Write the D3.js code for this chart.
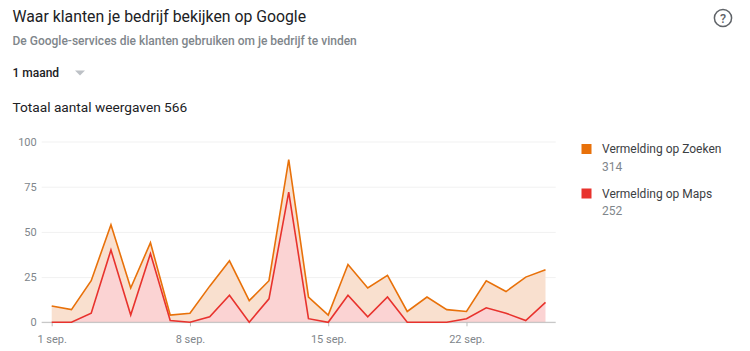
<!DOCTYPE html>
<html>
<head>
<meta charset="utf-8">
<script src="https://cdn.jsdelivr.net/npm/d3@7"></script>
<style>
  html, body { margin: 0; padding: 0; background: #fff; overflow: hidden; }
  svg { display: block; font-family: Roboto, sans-serif; }
  .tick text { font-family: Roboto, sans-serif; font-size: 11px; fill: #80868b; }
</style>
</head>
<body>
<svg id="chart" width="750" height="351"></svg>
<script>
const days = d3.range(1, 27);
const mapsValues = [0, 0, 5, 40, 4, 38, 1, 0, 3, 15, 0, 13, 72, 2, 0, 15, 3, 14, 0, 0, 0, 2, 8, 5, 1, 11];
const zoekenValues = [9, 7, 18, 14, 15, 6, 3, 5, 17, 19, 12, 10, 18, 12, 4, 17, 16, 12, 6, 14, 7, 4, 15, 12, 24, 18];
const xTicks = [1, 8, 15, 22];
const yTicks = [0, 25, 50, 75, 100];
const seriesNames = ["Vermelding op Maps", "Vermelding op Zoeken"];
const seriesColors = { "Vermelding op Maps": "#e8322d", "Vermelding op Zoeken": "#e8710a" };
const seriesFills = { "Vermelding op Maps": "#fbd3d3", "Vermelding op Zoeken": "#f9e0cf" };
const legendItems = [["Vermelding op Zoeken", "314"], ["Vermelding op Maps", "252"]];

const svg = d3.select("#chart");

const x = d3.scaleLinear().domain([1, 26]).range([51.7, 545.5]);
const y = d3.scaleLinear().domain([0, 100]).range([322.3, 141.5]);

const rows = days.map((d, i) => ({
  day: d,
  "Vermelding op Maps": mapsValues[i],
  "Vermelding op Zoeken": zoekenValues[i]
}));
const stacked = d3.stack().keys(seriesNames)(rows);

// header
function label(px, py, str, size, color, weight) {
  return svg.append("text").attr("x", px).attr("y", py).text(str)
    .attr("font-size", size).attr("fill", color).attr("font-weight", weight || 400);
}
label(12.5, 22, "Waar klanten je bedrijf bekijken op Google", 15.8, "#202124");
label(12.5, 45, "De Google-services die klanten gebruiken om je bedrijf te vinden", 12, "#80868b", 500);
label(12.5, 77, "1 maand", 12, "#202124", 500);
label(12.5, 112, "Totaal aantal weergaven 566", 13.7, "#202124");
svg.append("path").attr("d", "M75,70.5h10l-5,5z").attr("fill", "#bdc1c6");

// help icon
svg.append("circle").attr("cx", 723).attr("cy", 18).attr("r", 8.6)
  .attr("fill", "none").attr("stroke", "#5f6368").attr("stroke-width", 1.5);
svg.append("text").attr("x", 723).attr("y", 22.6).attr("text-anchor", "middle")
  .attr("font-size", 12.5).attr("font-weight", 500).attr("fill", "#5f6368").text("?");

// y axis + grid
const yAxis = svg.append("g").attr("transform", "translate(41.7,0)")
  .call(d3.axisLeft(y).tickValues(yTicks).tickSize(0).tickPadding(5));
yAxis.select(".domain").remove();
yAxis.selectAll(".tick line").attr("x2", 514).attr("stroke", "#f1f1f1").attr("stroke-width", 1);

// areas and lines
const area = d3.area().x(d => x(d.data.day)).y0(d => y(d[0])).y1(d => y(d[1]));
const line = d3.line().x(d => x(d.data.day)).y(d => y(d[1]));

svg.append("path").datum(stacked[1]).attr("d", area).attr("fill", seriesFills["Vermelding op Zoeken"]);
svg.append("path").datum(stacked[0]).attr("d", area).attr("fill", seriesFills["Vermelding op Maps"]);

// x axis
const xAxis = svg.append("g").attr("transform", `translate(0,${y(0)})`)
  .call(d3.axisBottom(x).tickValues(xTicks).tickFormat(d => d + " sep.").tickSize(4).tickPadding(9));
xAxis.select(".domain").remove();
xAxis.selectAll(".tick line").attr("stroke", "#bdbdbd");
svg.append("line").attr("x1", 41.7).attr("x2", 555.7).attr("y1", y(0)).attr("y2", y(0))
  .attr("stroke", "#bdbdbd").attr("stroke-width", 1);

stacked.slice().reverse().forEach(s => {
  svg.append("path").datum(s).attr("d", line).attr("fill", "none")
    .attr("stroke", seriesColors[s.key]).attr("stroke-width", 1.6);
});

// legend
const legend = svg.selectAll(".legend").data(legendItems).enter().append("g")
  .attr("class", "legend").attr("transform", (d, i) => `translate(581.5,${144 + i * 44.5})`);
legend.append("rect").attr("width", 10).attr("height", 10)
  .attr("fill", d => seriesColors[d[0]]);
legend.append("text").attr("x", 20.5).attr("y", 9).attr("font-size", 12).attr("fill", "#3c4043").text(d => d[0]);
legend.append("text").attr("x", 20.5).attr("y", 26.5).attr("font-size", 12).attr("fill", "#80868b").text(d => d[1]);
</script>
</body>
</html>
